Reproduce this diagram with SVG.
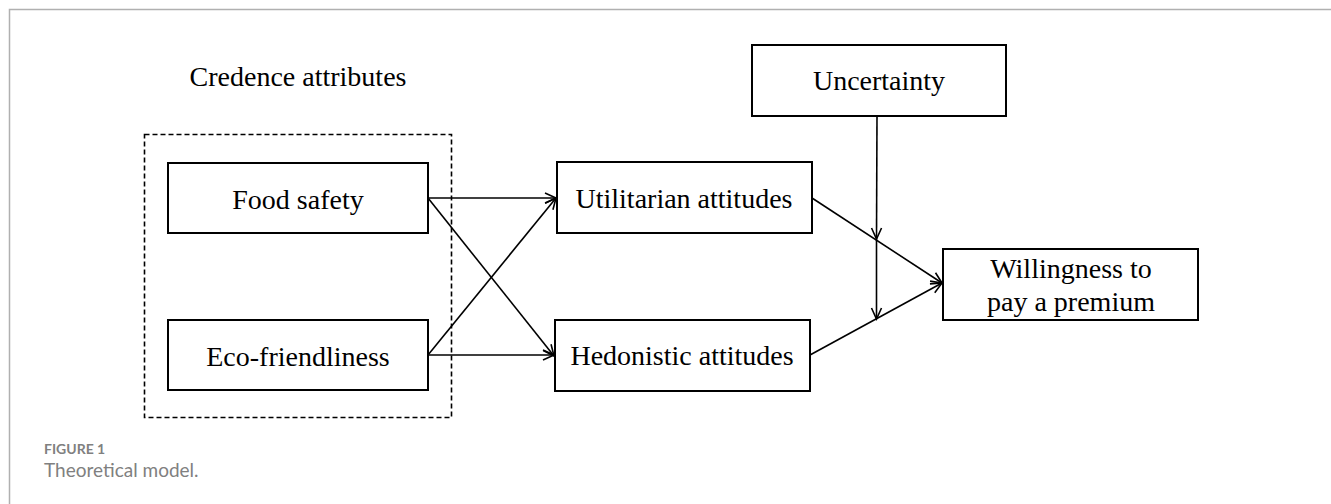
<svg xmlns="http://www.w3.org/2000/svg" width="1331" height="504" viewBox="0 0 1331 504">
<defs>
<style>
.box{fill:#fff;stroke:#000;stroke-width:2}
.t{font-family:"Liberation Serif","Times New Roman",serif;font-size:28px;fill:#000;text-anchor:middle}
.c{stroke:#000;stroke-width:1.6;fill:none}
</style>
<marker id="ah" markerWidth="14" markerHeight="14" refX="12" refY="6" orient="auto" markerUnits="userSpaceOnUse">
<path d="M1,1 L12,6 L1,11" fill="none" stroke="#000" stroke-width="1.6"/>
</marker>
</defs>
<rect width="1331" height="504" fill="#fff"/>
<path d="M9.5,504 V9.5 H1331" fill="none" stroke="#b0b0b0" stroke-width="1.5"/>
<text class="t" x="298" y="86">Credence attributes</text>
<rect id="credence-group" x="144.5" y="134.5" width="307" height="283" fill="none" stroke="#000" stroke-width="1.6" stroke-dasharray="5,3"/>
<g id="food-safety"><rect class="box" x="168" y="163" width="260" height="70"/><text class="t" x="298" y="209">Food safety</text></g>
<g id="eco-friendliness"><rect class="box" x="168" y="320" width="260" height="70"/><text class="t" x="298" y="366">Eco-friendliness</text></g>
<g id="utilitarian"><rect class="box" x="557" y="162" width="255" height="71"/><text class="t" x="684" y="208">Utilitarian attitudes</text></g>
<g id="hedonistic"><rect class="box" x="555" y="320" width="255" height="71"/><text class="t" x="682" y="365">Hedonistic attitudes</text></g>
<g id="uncertainty"><rect class="box" x="752" y="45" width="254" height="71"/><text class="t" x="879" y="90">Uncertainty</text></g>
<g id="willingness"><rect class="box" x="943" y="249" width="255" height="71"/><text class="t" x="1071" y="278">Willingness to</text><text class="t" x="1071" y="311">pay a premium</text></g>
<g id="connectors">
<line class="c" x1="428" y1="198" x2="556" y2="198" marker-end="url(#ah)"/>
<line class="c" x1="428" y1="198" x2="554" y2="356" marker-end="url(#ah)"/>
<line class="c" x1="428" y1="355" x2="556" y2="198" marker-end="url(#ah)"/>
<line class="c" x1="428" y1="355" x2="554" y2="355" marker-end="url(#ah)"/>
<line class="c" x1="812" y1="198" x2="942" y2="283" marker-end="url(#ah)"/>
<line class="c" x1="810" y1="355" x2="942" y2="283" marker-end="url(#ah)"/>
<line class="c" x1="877" y1="116" x2="876.5" y2="239" marker-end="url(#ah)"/>
<line class="c" x1="876.5" y1="239" x2="876.5" y2="319" marker-end="url(#ah)"/>
</g>
<text x="44" y="454" font-family="Lato,'Open Sans',sans-serif" font-size="14" font-weight="bold" fill="#808080">FIGURE 1</text>
<text x="44" y="477" font-family="Lato,'Open Sans',sans-serif" font-size="19" fill="#808080">Theoretical model.</text>
</svg>
